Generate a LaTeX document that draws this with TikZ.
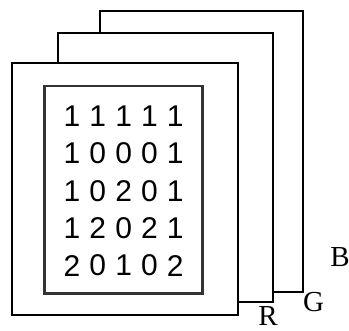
\documentclass[tikz,border=0pt]{standalone}
\usepackage{fontspec}
\setmainfont{Liberation Serif}
\newfontfamily\digitfont{Liberation Sans}
\usetikzlibrary{positioning}

\tikzset{
    plane/.style={line width=0.7mm, fill=white},
    frame/.style={line width=0.9mm, draw=black!80},
    digit/.style={inner sep=0pt, font=\digitfont\fontsize{30}{30}\selectfont},
    chan/.style={inner sep=0pt, font=\fontsize{29}{29}\selectfont}
}

\begin{document}
\begin{tikzpicture}[x=1pt, y=-1pt]
                \useasboundingbox (0,0) rectangle (349,331);

                % channel planes, back to front
                \draw[plane] (100,11) rectangle (303.3,291.7);
                \draw[plane] (58.3,33.3) rectangle (273.3,301.7);
                \draw[plane] (11.7,63.3) rectangle (238.3,315);

                % inner frame
                \draw[frame] (44.3,86) rectangle (202.3,293.3);

                % pixel values
                \foreach \row [count=\i] in {{1,1,1,1,1},{1,0,0,0,1},{1,0,2,0,1},{1,2,0,2,1},{2,0,1,0,2}} {
                    \foreach \d [count=\j] in \row {
                        \node[digit] (d\i\j) at ({72+25.8*(\j-1)},{116+37.4*(\i-1)}) {\d};
                    }
                }

                % channel labels
                \node[chan] (labB) at (340,257) {B};
                \node[chan] (labG) at (313.5,302.5) {G};
                \node[chan] (labR) at (268,316.5) {R};

            \end{tikzpicture}
\end{document}
